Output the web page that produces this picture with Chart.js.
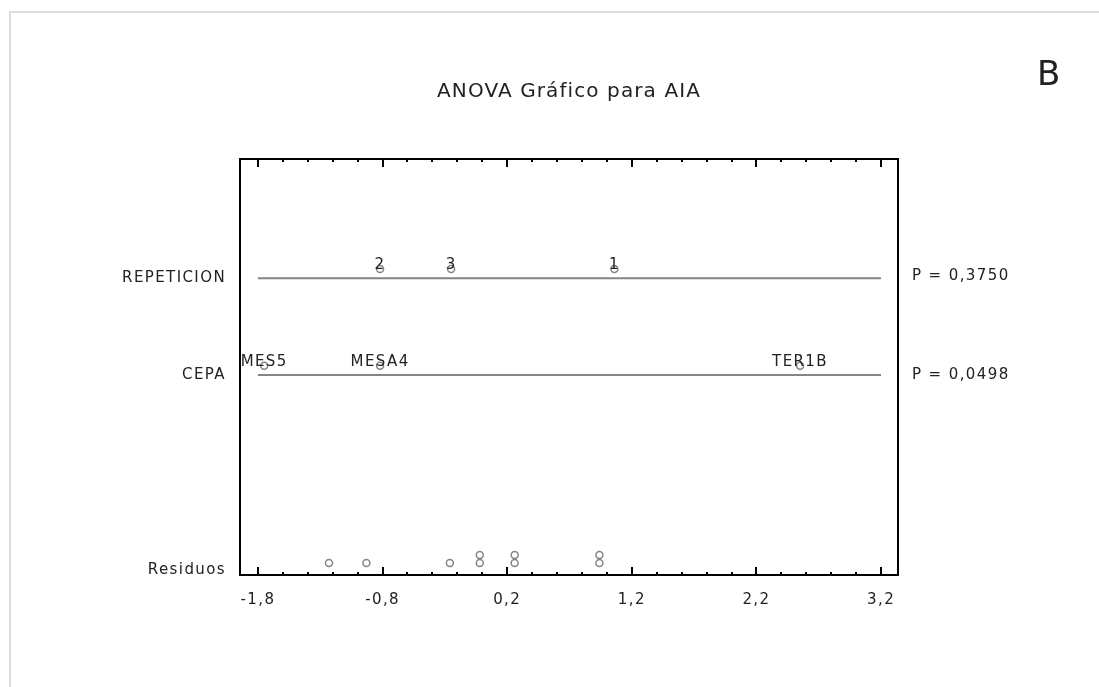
<!DOCTYPE html>
<html>
<head>
<meta charset="utf-8">
<title>ANOVA Gráfico para AIA</title>
<script src="https://cdn.jsdelivr.net/npm/chart.js@4/dist/chart.umd.min.js"></script>
<style>
  html, body { margin: 0; padding: 0; background: #fff; }
  #wrap { width: 1099px; height: 687px; position: relative; }
</style>
</head>
<body>
<div id="wrap"><canvas id="anova"></canvas></div>
<script>
// scaled effects per factor level
const repeticionLevels = ['1', '2', '3'];
const repeticionEffects = [1.06, -0.82, -0.25];
const cepaLevels = ['MES5', 'MESA4', 'TER1B'];
const cepaEffects = [-1.75, -0.82, 2.55];
const residuals = [-1.23, -0.93, -0.26, -0.02, -0.02, 0.26, 0.26, 0.94, 0.94];
const pValues = ['0,3750', '0,0498'];
const rowNames = ['Residuos', 'CEPA', 'REPETICION'];
const xTicks = [-1.8, -0.8, 0.2, 1.2, 2.2, 3.2];

// vertical layout of the rows (y scale runs 0..52)
const ROW_RES = 1.5, ROW_CEPA = 25, ROW_REP = 37.1;
const DOT_LIFT = 1.15, STACK = 1;
const FONT = '"DejaVu Sans", sans-serif';
const GREY = '#858585';
const SPACING = '1.4px';

const fmt = v => v.toFixed(1).replace('.', ',');

// stack equal residuals on top of each other like a dot plot
const seen = {};
const residualPts = residuals.map(r => {
  const k = r.toFixed(2);
  seen[k] = (seen[k] || 0) + 1;
  return { x: r, y: ROW_RES + (seen[k] - 1) * STACK };
});

const rowLine = y => [{ x: xTicks[0], y: y }, { x: xTicks[xTicks.length - 1], y: y }];

const decor = {
  id: 'decor',
  beforeDraw(chart) {
    const c = chart.ctx;
    c.letterSpacing = SPACING;
    c.save();
    c.strokeStyle = '#dcdcdc';
    c.lineWidth = 2;
    c.strokeRect(10, 12, 2000, 2000);
    c.restore();
  },
  afterDraw(chart) {
    const c = chart.ctx, a = chart.chartArea;
    const xs = chart.scales.x, ys = chart.scales.y;
    c.save();
    c.letterSpacing = SPACING;
    // frame
    c.strokeStyle = '#000';
    c.lineWidth = 2;
    c.strokeRect(a.left, a.top, a.right - a.left, a.bottom - a.top);
    // inward ticks, top and bottom
    for (let i = 0; i <= 25; i++) {
      const v = xTicks[0] + i * 0.2;
      const px = Math.round(xs.getPixelForValue(v));
      const len = i % 5 === 0 ? 8 : 3;
      c.beginPath();
      c.moveTo(px, a.top); c.lineTo(px, a.top + len);
      c.moveTo(px, a.bottom); c.lineTo(px, a.bottom - len);
      c.stroke();
    }
    c.fillStyle = '#222';
    c.textAlign = 'center';
    c.textBaseline = 'middle';
    // title over the plot box
    c.letterSpacing = '1.1px';
    c.font = '20px ' + FONT;
    c.fillText('ANOVA Gráfico para AIA', (a.left + a.right) / 2, 92);
    // point labels
    c.letterSpacing = SPACING;
    c.font = '15px ' + FONT;
    repeticionLevels.forEach((n, i) => {
      c.fillText(n, xs.getPixelForValue(repeticionEffects[i]), ys.getPixelForValue(ROW_REP) - 13);
    });
    cepaLevels.forEach((n, i) => {
      c.fillText(n, xs.getPixelForValue(cepaEffects[i]), ys.getPixelForValue(ROW_CEPA) - 13);
    });
    // p values
    c.textAlign = 'left';
    c.fillText('P = ' + pValues[0], a.right + 14, ys.getPixelForValue(ROW_REP) - 2);
    c.fillText('P = ' + pValues[1], a.right + 14, ys.getPixelForValue(ROW_CEPA));
    // panel letter
    c.letterSpacing = '0px';
    c.font = '34px ' + FONT;
    c.fillText('B', 1037, 76);
    c.restore();
  }
};

new Chart(document.getElementById('anova'), {
  type: 'scatter',
  data: {
    datasets: [
      { type: 'line', data: rowLine(ROW_REP), borderColor: GREY, borderWidth: 2, pointRadius: 0 },
      { type: 'line', data: rowLine(ROW_CEPA), borderColor: GREY, borderWidth: 2, pointRadius: 0 },
      {
        data: repeticionEffects.map(v => ({ x: v, y: ROW_REP + DOT_LIFT })),
        pointRadius: 3.5, borderColor: GREY, backgroundColor: '#fff', borderWidth: 1.5
      },
      {
        data: cepaEffects.map(v => ({ x: v, y: ROW_CEPA + DOT_LIFT })),
        pointRadius: 3.5, borderColor: GREY, backgroundColor: '#fff', borderWidth: 1.5
      },
      {
        data: residualPts,
        pointRadius: 3.5, borderColor: GREY, backgroundColor: '#fff', borderWidth: 1.5
      }
    ]
  },
  options: {
    responsive: true,
    maintainAspectRatio: false,
    animation: false,
    layout: { padding: { left: 0, right: 201, top: 159, bottom: 72 } },
    plugins: {
      legend: { display: false },
      tooltip: { enabled: false },
      title: { display: false }
    },
    scales: {
      x: {
        type: 'linear',
        min: -1.944,
        max: 3.336,
        grid: { display: false, drawTicks: false },
        border: { display: false },
        afterBuildTicks: s => { s.ticks = xTicks.map(v => ({ value: v })); },
        afterFit: s => { s.height = 40; },
        ticks: {
          padding: 16,
          color: '#222',
          font: { family: FONT, size: 15 },
          callback: v => fmt(v)
        }
      },
      y: {
        type: 'linear',
        min: 0,
        max: 52,
        grid: { display: false, drawTicks: false },
        border: { display: false },
        afterBuildTicks: s => { s.ticks = [0.6, 37.1, 25].map(v => ({ value: v })); },
        afterFit: s => { s.width = 240; },
        ticks: {
          padding: 14,
          color: '#222',
          font: { family: FONT, size: 15 },
          callback: v => v < 5 ? rowNames[0] : (v < 30 ? rowNames[1] : rowNames[2])
        }
      }
    }
  },
  plugins: [decor]
});
</script>
</body>
</html>
